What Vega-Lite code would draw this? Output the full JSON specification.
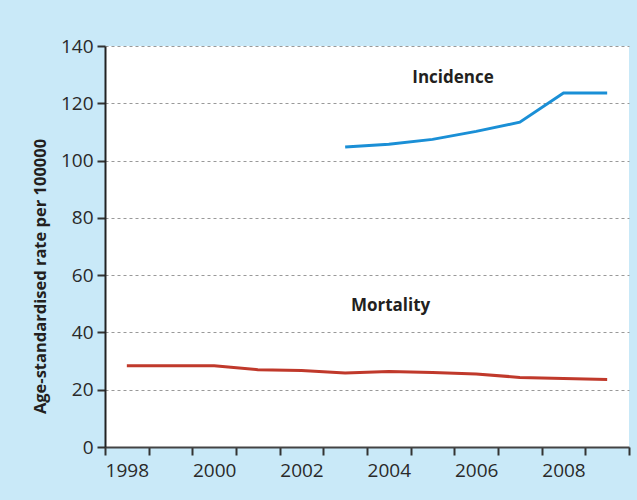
{
  "$schema": "https://vega.github.io/schema/vega-lite/v6.json",
  "width": 524,
  "height": 401,
  "autosize": {"type": "none"},
  "padding": {"left": 105, "top": 46, "right": 8, "bottom": 53},
  "background": "#c9e9f8",
  "view": {"fill": "white", "stroke": null},
  "config": {
    "font": "Open Sans",
    "axis": {"labelFont": "Open Sans", "titleFont": "Open Sans"}
  },
  "resolve": {"axis": {"x": "independent"}},
  "layer": [
    {
      "data": {
        "values": [
          {"year": 1998, "series": "Mortality", "rate": 28.4},
          {"year": 1999, "series": "Mortality", "rate": 28.4},
          {"year": 2000, "series": "Mortality", "rate": 28.4},
          {"year": 2001, "series": "Mortality", "rate": 27.0},
          {"year": 2002, "series": "Mortality", "rate": 26.7},
          {"year": 2003, "series": "Mortality", "rate": 25.8},
          {"year": 2004, "series": "Mortality", "rate": 26.4},
          {"year": 2005, "series": "Mortality", "rate": 26.0},
          {"year": 2006, "series": "Mortality", "rate": 25.5},
          {"year": 2007, "series": "Mortality", "rate": 24.3},
          {"year": 2008, "series": "Mortality", "rate": 23.9},
          {"year": 2009, "series": "Mortality", "rate": 23.6},
          {"year": 2003, "series": "Incidence", "rate": 104.7},
          {"year": 2004, "series": "Incidence", "rate": 105.7},
          {"year": 2005, "series": "Incidence", "rate": 107.4},
          {"year": 2006, "series": "Incidence", "rate": 110.2},
          {"year": 2007, "series": "Incidence", "rate": 113.4},
          {"year": 2008, "series": "Incidence", "rate": 123.6},
          {"year": 2009, "series": "Incidence", "rate": 123.6}
        ]
      },
      "mark": {"type": "line", "strokeWidth": 3, "interpolate": "linear"},
      "encoding": {
        "x": {
          "field": "year",
          "type": "quantitative",
          "scale": {"domain": [1997.5, 2009.5], "nice": false, "zero": false},
          "axis": {
            "orient": "bottom",
            "title": null,
            "grid": false,
            "values": [1998, 2000, 2002, 2004, 2006, 2008],
            "format": "d",
            "labelOverlap": false,
            "labelFlush": false,
            "labelFontSize": 19,
            "labelColor": "#2a2a2a",
            "labelPadding": 14,
            "ticks": false,
            "domain": false
          }
        },
        "y": {
          "field": "rate",
          "type": "quantitative",
          "scale": {"domain": [0, 140], "nice": false},
          "axis": {
            "title": "Age-standardised rate per 100000",
            "titleFontSize": 16.5,
            "titleFontWeight": "bold",
            "titleColor": "#231f20",
            "titlePadding": 12,
            "titleY": 230,
            "values": [0, 20, 40, 60, 80, 100, 120, 140],
            "labelFontSize": 19,
            "labelColor": "#2a2a2a",
            "labelPadding": 4,
            "tickSize": 8,
            "tickWidth": 2,
            "tickColor": "#333333",
            "domainColor": "#222222",
            "domainWidth": 2,
            "grid": true,
            "gridColor": "#999999",
            "gridDash": [3, 3],
            "gridWidth": 1
          }
        },
        "color": {
          "field": "series",
          "type": "nominal",
          "scale": {"domain": ["Incidence", "Mortality"], "range": ["#1a8fd6", "#c0392b"]},
          "legend": null
        }
      }
    },
    {
      "data": {
        "values": [
          {"label": "Incidence", "x": 2005.47, "y": 128.7},
          {"label": "Mortality", "x": 2004.04, "y": 49.2}
        ]
      },
      "mark": {"type": "text", "fontSize": 17, "fontWeight": "bold", "color": "#231f20", "align": "center", "baseline": "middle"},
      "encoding": {
        "x": {
          "field": "x",
          "type": "quantitative",
          "axis": {
            "orient": "bottom",
            "title": null,
            "grid": false,
            "labels": false,
            "values": [1997.5, 1998.5, 1999.5, 2000.5, 2001.5, 2002.5, 2003.5, 2004.5, 2005.5, 2006.5, 2007.5, 2008.5, 2009.5],
            "tickSize": 8,
            "tickWidth": 2,
            "tickColor": "#333333",
            "domainColor": "#444444",
            "domainWidth": 2
          }
        },
        "y": {"field": "y", "type": "quantitative"},
        "text": {"field": "label", "type": "nominal"}
      }
    }
  ]
}
